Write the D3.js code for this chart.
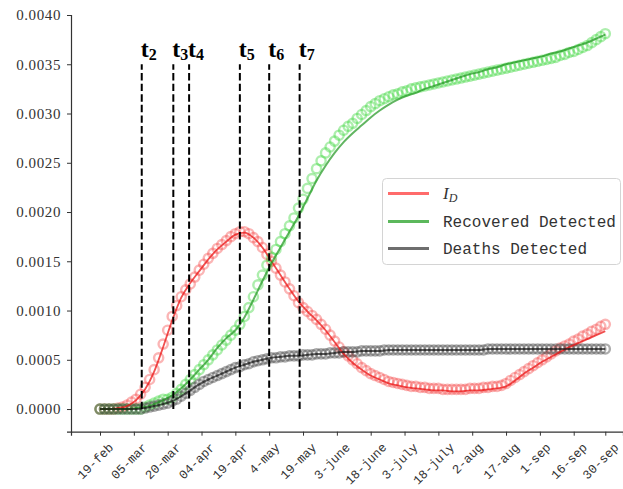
<!DOCTYPE html>
<html>
<head>
<meta charset="utf-8">
<style>
  body { margin: 0; background: #fff; }
  .chart { width: 623px; height: 489px; }
  .chart text { fill: #333; }
</style>
</head>
<body>
<div class="chart"></div>
<script src="https://d3js.org/d3.v7.min.js"></script>
<script>
  // x = days since 19-feb
  const tickDays = [0, 15, 30, 45, 60, 75, 90, 105, 120, 135, 150, 165, 180, 195, 210, 224];
  const tickLabels = ['19-feb', '05-mar', '20-mar', '04-apr', '19-apr', '4-may', '19-may', '3-june',
                      '18-june', '3-july', '18-july', '2-aug', '17-aug', '1-sep', '16-sep', '30-sep'];
  const yTicks = [0, 0.0005, 0.0010, 0.0015, 0.0020, 0.0025, 0.0030, 0.0035, 0.0040];

  // change points
  const tDays = [18.5, 32.5, 39.5, 62, 75, 88.5];
  const tSubs = ['2', '3', '4', '5', '6', '7'];
  const tTop = 0.0035;

  // observed values, every 2 days (day 0 .. 224)
  const obsDays = d3.range(0, 225, 2);
  const idObs = [
    0, 0, 0, 0, 0.00001, 0.00002, 0.00004, 0.00007, 0.0001, 0.00015,
    0.00022, 0.0003, 0.0004, 0.00052, 0.00066, 0.0008, 0.00094, 0.00105, 0.00114, 0.00121,
    0.00127, 0.00134, 0.00141, 0.00147, 0.00153, 0.00158, 0.00163, 0.00167, 0.00171, 0.00175,
    0.00178, 0.0018, 0.0018, 0.00178, 0.00174, 0.0017, 0.00164, 0.00157, 0.0015, 0.00143,
    0.00136, 0.00129, 0.00122, 0.00115, 0.00108, 0.00103, 0.00099, 0.00095, 0.00091, 0.00086,
    0.00081, 0.00075, 0.00069, 0.00063, 0.00058, 0.00054, 0.0005, 0.00046, 0.00042, 0.00039,
    0.00036, 0.00034, 0.00032, 0.0003, 0.00028, 0.00027, 0.00026, 0.00025, 0.00024, 0.00023,
    0.00023, 0.00022, 0.00022, 0.00021, 0.00021, 0.00021, 0.0002, 0.0002, 0.0002, 0.0002,
    0.0002, 0.0002, 0.00021, 0.00021, 0.00021, 0.00022, 0.00022, 0.00023, 0.00023, 0.00024,
    0.00026, 0.00029, 0.00032, 0.00035, 0.00038, 0.00041, 0.00044, 0.00047, 0.0005, 0.00053,
    0.00056, 0.00059, 0.00062, 0.00064, 0.00066, 0.00069, 0.00071, 0.00074, 0.00076, 0.00079,
    0.00081, 0.00084, 0.00086
  ];
  const recObs = [
    0, 0, 0, 0, 0, 0, 0, 0, 0, 0,
    0.00002, 0.00004, 0.00006, 0.00008, 0.0001, 0.0001, 0.00012, 0.00016, 0.0002, 0.00025,
    0.0003, 0.00035, 0.0004, 0.00045, 0.0005, 0.00055, 0.0006, 0.00065, 0.0007, 0.00075,
    0.0008, 0.00086, 0.00094, 0.00103, 0.00114, 0.00126, 0.00136, 0.00146, 0.00154, 0.00162,
    0.0017, 0.00178, 0.00186, 0.00194, 0.00204, 0.00213, 0.00224, 0.00234, 0.00244, 0.00252,
    0.0026, 0.00266, 0.00272, 0.00278, 0.00283, 0.00287, 0.0029, 0.00295, 0.00299, 0.00303,
    0.00307, 0.0031, 0.00313, 0.00315, 0.00317, 0.00319, 0.0032, 0.00322, 0.00323, 0.00325,
    0.00326, 0.00327, 0.00328, 0.00329, 0.0033, 0.00331, 0.00332, 0.00333, 0.00334, 0.00335,
    0.00336, 0.00337, 0.00338, 0.00339, 0.0034, 0.00341, 0.00342, 0.00343, 0.00344, 0.00345,
    0.00346, 0.00347, 0.00348, 0.00349, 0.0035, 0.00351, 0.00352, 0.00353, 0.00354, 0.00355,
    0.00356, 0.00357, 0.00359, 0.0036, 0.00362, 0.00363, 0.00365, 0.00367, 0.00369, 0.00372,
    0.00375, 0.00378, 0.00381
  ];
  const deathObs = [
    0, 0, 0, 0, 0, 0, 0, 0, 0, 0,
    0.00001, 0.00002, 0.00003, 0.00004, 0.00005, 0.00006, 0.00008, 0.0001, 0.00013, 0.00016,
    0.00019, 0.00022, 0.00025, 0.00028, 0.0003, 0.00032, 0.00034, 0.00036, 0.00038, 0.0004,
    0.00042, 0.00043, 0.00045, 0.00046, 0.00048, 0.00049, 0.0005, 0.00051, 0.00052, 0.00052,
    0.00053, 0.00053, 0.00054, 0.00054, 0.00054, 0.00055, 0.00055, 0.00055, 0.00056, 0.00056,
    0.00056, 0.00057, 0.00057, 0.00057, 0.00058, 0.00058, 0.00058, 0.00058, 0.00059, 0.00059,
    0.00059, 0.00059, 0.00059, 0.0006, 0.0006, 0.0006, 0.0006, 0.0006, 0.0006, 0.0006,
    0.0006, 0.0006, 0.0006, 0.0006, 0.0006, 0.0006, 0.0006, 0.0006, 0.0006, 0.0006,
    0.0006, 0.0006, 0.0006, 0.0006, 0.0006, 0.0006, 0.00061, 0.00061, 0.00061, 0.00061,
    0.00061, 0.00061, 0.00061, 0.00061, 0.00061, 0.00061, 0.00061, 0.00061, 0.00061, 0.00061,
    0.00061, 0.00061, 0.00061, 0.00061, 0.00061, 0.00061, 0.00061, 0.00061, 0.00061, 0.00061,
    0.00061, 0.00061, 0.00061
  ];

  // model curves, every 4 days (day 0 .. 224)
  const fitDays = d3.range(0, 225, 4);
  const idFit = [
    0, 0, 0.00001, 0.00003, 0.00009, 0.0002, 0.00038, 0.00063, 0.0009, 0.00113,
    0.00128, 0.0014, 0.00152, 0.00162, 0.0017, 0.00177, 0.00179, 0.00174, 0.00164, 0.0015,
    0.00136, 0.00122, 0.00109, 0.00099, 0.0009, 0.0008, 0.00068, 0.00056, 0.00047, 0.0004,
    0.00034, 0.0003, 0.00026, 0.00024, 0.00022, 0.00021, 0.0002, 0.00019, 0.00019, 0.00018,
    0.00018, 0.00019, 0.00019, 0.0002, 0.00021, 0.00023, 0.00029, 0.00036, 0.00042, 0.00048,
    0.00053, 0.00058, 0.00063, 0.00067, 0.00071, 0.00075, 0.00079
  ];
  const recFit = [
    0, 0, 0, 0, 0.00001, 0.00002, 0.00005, 0.00009, 0.00014, 0.00021,
    0.0003, 0.0004, 0.0005, 0.00062, 0.00072, 0.0008, 0.00093, 0.00111, 0.0013, 0.00148,
    0.00164, 0.0018, 0.00196, 0.00214, 0.00232, 0.00247, 0.0026, 0.00271, 0.0028, 0.00288,
    0.00296, 0.00303, 0.00309, 0.00314, 0.00318, 0.00321, 0.00325, 0.00328, 0.00331, 0.00334,
    0.00337, 0.0034, 0.00342, 0.00345, 0.00347, 0.0035, 0.00352, 0.00354, 0.00356, 0.00358,
    0.00361, 0.00363, 0.00366, 0.00369, 0.00372, 0.00376, 0.0038
  ];
  const deathFit = [
    0, 0, 0, 0, 0, 0.00001, 0.00003, 0.00005, 0.00008, 0.00013,
    0.00019, 0.00025, 0.0003, 0.00034, 0.00038, 0.00042, 0.00045, 0.00048, 0.0005, 0.00052,
    0.00053, 0.00054, 0.00054, 0.00055, 0.00056, 0.00056, 0.00057, 0.00058, 0.00058, 0.00059,
    0.00059, 0.00059, 0.0006, 0.0006, 0.0006, 0.0006, 0.0006, 0.0006, 0.0006, 0.0006,
    0.0006, 0.0006, 0.0006, 0.00061, 0.00061, 0.00061, 0.00061, 0.00061, 0.00061, 0.00061,
    0.00061, 0.00061, 0.00061, 0.00061, 0.00061, 0.00061, 0.00061
  ];

  const serif = '"Liberation Serif", "Times New Roman", serif';
  const mono = '"Liberation Mono", "Courier New", monospace';

  const width = 623, height = 489;
  const svg = d3.select('.chart').append('svg')
                .attr('width', width)
                .attr('height', height);

  const xScale = d3.scaleLinear()
                   .domain([-12.86, 231.85])
                   .range([71, 623]);
  const yScale = d3.scaleLinear()
                   .domain([-0.00023, 0.0040])
                   .range([431.7, 15]);

  // y axis
  const yAxis = d3.axisLeft(yScale)
                  .tickValues(yTicks)
                  .tickFormat(d3.format('.4f'))
                  .tickSize(4)
                  .tickPadding(6);
  const yAxisGroup = svg.append('g')
                        .attr('transform', 'translate(71,0)')
                        .call(yAxis)
                        .attr('font-family', serif)
                        .attr('font-size', 15);
  yAxisGroup.select('.domain').attr('stroke', '#333').attr('stroke-width', 1.2);
  yAxisGroup.selectAll('line').attr('stroke', '#333');
  yAxisGroup.selectAll('text')
            .attr('letter-spacing', 0.6)
            .attr('fill', '#333');

  // x axis
  const xAxis = d3.axisBottom(xScale)
                  .tickValues(tickDays)
                  .tickFormat('')
                  .tickSize(4);
  const xAxisGroup = svg.append('g')
                        .attr('transform', 'translate(0,431.7)')
                        .call(xAxis);
  xAxisGroup.select('.domain').attr('stroke', '#333').attr('stroke-width', 1.2);
  xAxisGroup.selectAll('line').attr('stroke', '#333');

  tickDays.forEach((d, i) => {
    const t = svg.append('text')
                 .text(tickLabels[i])
                 .attr('font-family', mono)
                 .attr('font-size', 12.5)
                 .attr('fill', '#333')
                 .attr('text-anchor', 'middle')
                 .attr('dominant-baseline', 'central');
    const w = t.node().getComputedTextLength();
    const cx = xScale(d) - 4;
    const cy = 441 + (w + 14) * 0.7071 / 2;
    t.attr('transform', `translate(${cx},${cy}) rotate(-45)`);
  });

  // observed markers
  function drawRings(vals, color) {
    svg.append('g')
       .selectAll('circle')
       .data(vals)
       .join('circle')
       .attr('cx', (v, i) => xScale(obsDays[i]))
       .attr('cy', v => yScale(v))
       .attr('r', 4.6)
       .attr('fill', 'none')
       .attr('stroke', color)
       .attr('stroke-width', 2.4);
  }
  drawRings(idObs, 'rgba(245,60,60,0.38)');
  drawRings(recObs, 'rgba(60,215,60,0.42)');
  drawRings(deathObs, 'rgba(70,70,70,0.45)');

  // model lines
  function drawFit(vals, color, w) {
    const line = d3.line()
                   .x((v, i) => xScale(fitDays[i]))
                   .y(v => yScale(v))
                   .curve(d3.curveMonotoneX);
    svg.append('path')
       .attr('d', line(vals))
       .attr('fill', 'none')
       .attr('stroke', color)
       .attr('stroke-width', w);
  }
  drawFit(idFit, 'rgba(235,20,20,0.75)', 1.8);
  drawFit(recFit, 'rgba(30,150,30,0.7)', 2);
  drawFit(deathFit, 'rgba(20,20,20,0.7)', 2);

  // dashed change-point lines
  tDays.forEach((d, i) => {
    svg.append('line')
       .attr('x1', xScale(d)).attr('x2', xScale(d))
       .attr('y1', yScale(0)).attr('y2', yScale(tTop))
       .attr('stroke', '#000')
       .attr('stroke-width', 2)
       .attr('stroke-dasharray', '7.4,3.2');
    const lab = svg.append('text')
                   .attr('x', xScale(d) - 1)
                   .attr('y', 57)
                   .attr('font-family', serif)
                   .attr('font-weight', 'bold')
                   .attr('font-size', 24)
                   .style('fill', '#000');
    lab.append('tspan').text('t');
    lab.append('tspan').text(tSubs[i])
       .attr('dy', 3)
       .attr('font-size', 16);
  });

  // legend
  const legend = svg.append('g');
  legend.append('rect')
        .attr('x', 382.5).attr('y', 178.5)
        .attr('width', 238).attr('height', 86)
        .attr('rx', 4)
        .attr('fill', 'rgba(255,255,255,0.85)')
        .attr('stroke', '#d4d4d4');
  const legColors = ['#ff6b6b', '#5cb85c', '#6e6e6e'];
  const legRows = [193.5, 221.5, 248.5];
  legRows.forEach((y, i) => {
    legend.append('line')
          .attr('x1', 388).attr('x2', 429)
          .attr('y1', y).attr('y2', y)
          .attr('stroke', legColors[i])
          .attr('stroke-width', 3);
  });
  const idText = legend.append('text')
                       .attr('x', 443).attr('y', legRows[0] + 5)
                       .attr('font-family', serif)
                       .attr('font-style', 'italic')
                       .attr('font-size', 17);
  idText.append('tspan').text('I');
  idText.append('tspan').text('D').attr('dy', 3).attr('font-size', 12);
  legend.append('text')
        .attr('x', 443).attr('y', legRows[1] + 5)
        .attr('font-family', mono)
        .attr('font-size', 16)
        .text('Recovered Detected');
  legend.append('text')
        .attr('x', 443).attr('y', legRows[2] + 5)
        .attr('font-family', mono)
        .attr('font-size', 16)
        .text('Deaths Detected');
</script>
</body>
</html>
